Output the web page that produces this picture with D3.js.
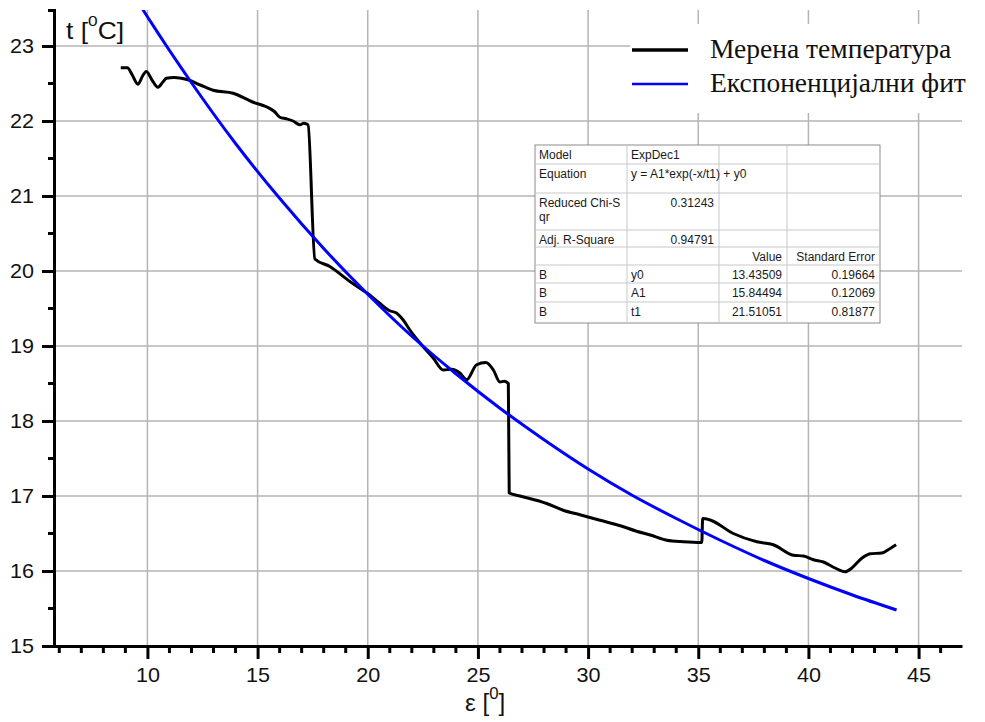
<!DOCTYPE html>
<html>
<head>
<meta charset="utf-8">
<script src="https://cdn.jsdelivr.net/npm/d3@7"></script>
<style>
  body { margin: 0; background: #fff; }
  svg { display: block; }
</style>
</head>
<body>
<div id="chart"></div>
<script>
let measuredX = [8.79, 9.09, 9.3, 9.57, 9.78, 9.95, 10.2, 10.48, 10.7, 10.86, 11.2, 11.54, 11.84, 12.4, 12.98, 13.89, 14.8, 15.4, 15.75, 16.01, 16.3, 16.61, 16.92, 17.1, 17.22, 17.29, 17.6, 18.28, 19.19, 19.64, 20.0, 20.5, 21.0, 21.3, 21.6, 21.92, 22.52, 22.97, 23.43, 23.81, 24.18, 24.49, 24.94, 25.36, 25.7, 26.0, 26.2, 26.38, 26.42, 26.91, 28.12, 28.87, 29.63, 30.5, 31.5, 32.2, 32.82, 33.57, 34.32, 35.16, 35.2, 35.54, 36.59, 37.66, 38.41, 39.32, 39.77, 40.23, 40.68, 41.21, 41.67, 41.97, 42.42, 42.8, 43.33, 43.71, 43.98];
let measuredT = [22.71, 22.71, 22.62, 22.49, 22.6, 22.66, 22.55, 22.45, 22.52, 22.57, 22.58, 22.57, 22.55, 22.48, 22.41, 22.37, 22.25, 22.19, 22.13, 22.05, 22.03, 22.0, 21.95, 21.97, 21.96, 21.95, 20.16, 20.06, 19.86, 19.77, 19.70, 19.58, 19.47, 19.44, 19.35, 19.21, 18.99, 18.84, 18.68, 18.69, 18.64, 18.55, 18.75, 18.78, 18.68, 18.52, 18.53, 18.50, 17.04, 17.0, 16.9, 16.81, 16.75, 16.68, 16.6, 16.53, 16.48, 16.41, 16.39, 16.38, 16.70, 16.68, 16.5, 16.39, 16.35, 16.21, 16.2, 16.15, 16.12, 16.04, 15.99, 16.04, 16.17, 16.23, 16.24, 16.3, 16.35];

// exponential fit curve
let fitX = [9, 10, 12, 14, 16, 18, 20, 22, 24, 26, 28, 30, 32, 34, 36, 38, 40, 42, 44];
let fitT = [23.86, 23.39, 22.51, 21.70, 20.97, 20.30, 19.69, 19.13, 18.63, 18.17, 17.75, 17.36, 17.01, 16.70, 16.41, 16.14, 15.90, 15.68, 15.48];

let xTicks = [10, 15, 20, 25, 30, 35, 40, 45];
let xMinor = [6, 7, 8, 9, 11, 12, 13, 14, 16, 17, 18, 19, 21, 22, 23, 24, 26, 27, 28, 29, 31, 32, 33, 34, 36, 37, 38, 39, 41, 42, 43, 44, 46];
let yTicks = [15, 16, 17, 18, 19, 20, 21, 22, 23];
let yMinor = [15.5, 16.5, 17.5, 18.5, 19.5, 20.5, 21.5, 22.5];

let legendLabels = ["Мерена температура", "Експоненцијални фит"];
let legendColors = ["#000000", "#0000ff"];

let tableRows = [
    ["Model", "ExpDec1", "", ""],
    ["Equation", "y = A1*exp(-x/t1) + y0", "", ""],
    ["Reduced Chi-S|qr", "0.31243", "", ""],
    ["Adj. R-Square", "0.94791", "", ""],
    ["", "", "Value", "Standard Error"],
    ["B", "y0", "13.43509", "0.19664"],
    ["B", "A1", "15.84494", "0.12069"],
    ["B", "t1", "21.51051", "0.81877"]
];

// widen text a little around its anchor (the original picture is stretched sideways)
function stretch(sel, s) {
    sel.each(function () {
        let ax = +this.getAttribute("x") || 0;
        d3.select(this).attr("transform", "translate(" + ax + ",0) scale(" + s + ",1) translate(" + (-ax) + ",0)");
    });
}

function renderChart(element) {
    let width = 985, height = 722;
    let left = 54, right = 962, top = 10, bottom = 646;

    let svg = d3.select(element).append("svg")
        .attr("width", width)
        .attr("height", height)
        .style("font-family", "Arial, 'Liberation Sans', sans-serif");

    svg.append("rect").attr("width", width).attr("height", height).attr("fill", "#fff");

    let x = d3.scaleLinear().domain([5.76, 46.97]).range([left, right]);
    let y = d3.scaleLinear().domain([15, 23.48]).range([bottom, top]);

    //grid
    let grid = svg.append("g").attr("stroke", "#b4b4b4").attr("stroke-width", 1.5);
    grid.selectAll(".vg").data(xTicks).enter().append("line")
        .attr("x1", d => x(d)).attr("x2", d => x(d))
        .attr("y1", top).attr("y2", bottom);
    grid.selectAll(".hg").data(yTicks.slice(1)).enter().append("line")
        .attr("x1", left).attr("x2", right)
        .attr("y1", d => y(d)).attr("y2", d => y(d));

    //legend background hides grid
    svg.append("rect").attr("x", 630).attr("y", 24).attr("width", 355).attr("height", 89).attr("fill", "#fff");

    //curves
    svg.append("clipPath").attr("id", "clip").append("rect")
        .attr("x", left).attr("y", top).attr("width", right - left).attr("height", bottom - top);
    let plot = svg.append("g").attr("clip-path", "url(#clip)");

    let line = d3.line()
        .x(d => x(d[0]))
        .y(d => y(d[1]))
        .curve(d3.curveMonotoneX);

    plot.append("path")
        .datum(measuredX.map((v, i) => [v, measuredT[i]]))
        .attr("d", line)
        .attr("fill", "none")
        .attr("stroke", legendColors[0])
        .attr("stroke-width", 3)
        .attr("stroke-linejoin", "round");

    plot.append("path")
        .datum(fitX.map((v, i) => [v, fitT[i]]))
        .attr("d", line)
        .attr("fill", "none")
        .attr("stroke", legendColors[1])
        .attr("stroke-width", 3);

    //table
    let cols = [535, 627, 719, 787, 880];
    let rows = [145, 164, 193, 230, 247, 265, 283, 302, 323];
    let tbl = svg.append("g");
    tbl.append("rect")
        .attr("x", cols[0]).attr("y", rows[0])
        .attr("width", cols[4] - cols[0]).attr("height", rows[8] - rows[0])
        .attr("fill", "#fff").attr("stroke", "#8c8c8c").attr("stroke-width", 1);
    tbl.selectAll(".cl").data(cols.slice(1, 4)).enter().append("line")
        .attr("x1", d => d).attr("x2", d => d)
        .attr("y1", rows[0]).attr("y2", rows[8])
        .attr("stroke", "#c8c8c8");
    tbl.selectAll(".rl").data(rows.slice(1, 8)).enter().append("line")
        .attr("x1", cols[0]).attr("x2", cols[4])
        .attr("y1", d => d).attr("y2", d => d)
        .attr("stroke", "#c8c8c8");

    tableRows.forEach(function (r, i) {
        r.forEach(function (cell, j) {
            if (!cell) return;
            let isNum = /^[0-9.]+$/.test(cell) || cell == "Value" || cell == "Standard Error";
            let lines = cell.split("|");
            let t = tbl.append("text")
                .attr("font-size", 12)
                .attr("fill", "#1a1a1a")
                .attr("text-anchor", isNum ? "end" : "start")
                .attr("x", isNum ? cols[j + 1] - 5 : cols[j] + 4)
                .attr("y", rows[i] + 14);
            lines.forEach(function (l, k) {
                t.append("tspan")
                    .attr("x", isNum ? cols[j + 1] - 5 : cols[j] + 4)
                    .attr("dy", k == 0 ? 0 : 13.5)
                    .text(l);
            });
        });
    });

    //axes
    let xAxis = svg.append("g")
        .attr("transform", "translate(0," + bottom + ")")
        .call(d3.axisBottom(x).tickValues(xTicks).tickSize(13).tickSizeOuter(0).tickPadding(9));
    xAxis.selectAll("text").attr("font-size", 20).attr("fill", "#111");
    stretch(xAxis.selectAll("text"), 1.08);
    xAxis.append("g").selectAll("line").data(xMinor).enter().append("line")
        .attr("x1", d => x(d)).attr("x2", d => x(d))
        .attr("y1", 0).attr("y2", 7)
        .attr("stroke", "#000");

    let yAxis = svg.append("g")
        .attr("transform", "translate(" + left + ",0)")
        .call(d3.axisLeft(y).tickValues(yTicks).tickSize(12).tickSizeOuter(6).tickPadding(8));
    yAxis.selectAll("text").attr("font-size", 20).attr("fill", "#111");
    stretch(yAxis.selectAll("text"), 1.08);
    yAxis.append("g").selectAll("line").data(yMinor).enter().append("line")
        .attr("x1", 0).attr("x2", -6)
        .attr("y1", d => y(d)).attr("y2", d => y(d))
        .attr("stroke", "#000");

    svg.selectAll(".domain, .tick line").attr("stroke-width", 3);
    xAxis.selectAll("g > line").attr("stroke-width", 3);
    yAxis.selectAll("g > line").attr("stroke-width", 3);

    //axis titles
    let yt = svg.append("text").attr("x", 66).attr("y", 39).attr("font-size", 23).attr("fill", "#111");
    yt.append("tspan").text("t [");
    yt.append("tspan").attr("font-size", 15).attr("dy", -13).text("0");
    yt.append("tspan").attr("dy", 13).text("C]");
    stretch(yt, 1.15);

    let xt = svg.append("text").attr("x", 465).attr("y", 711).attr("font-size", 23).attr("fill", "#111");
    xt.append("tspan").text("ε [");
    xt.append("tspan").attr("font-size", 16).attr("dy", -12).text("0");
    xt.append("tspan").attr("dy", 12).text("]");
    stretch(xt, 1.05);

    //legend
    let legend = svg.append("g").selectAll("g")
        .data(legendLabels)
        .enter().append("g")
        .attr("transform", (d, i) => "translate(632," + (50 + i * 34) + ")");
    legend.append("line")
        .attr("x1", 0).attr("x2", 56)
        .attr("stroke", (d, i) => legendColors[i])
        .attr("stroke-width", (d, i) => i == 0 ? 3.5 : 2.5);
    legend.append("text")
        .attr("x", 78).attr("y", 8)
        .attr("font-family", "'Liberation Serif', 'Times New Roman', serif")
        .attr("font-size", 27.5)
        .attr("fill", "#111")
        .text(d => d);
}

renderChart("#chart");
</script>
</body>
</html>
